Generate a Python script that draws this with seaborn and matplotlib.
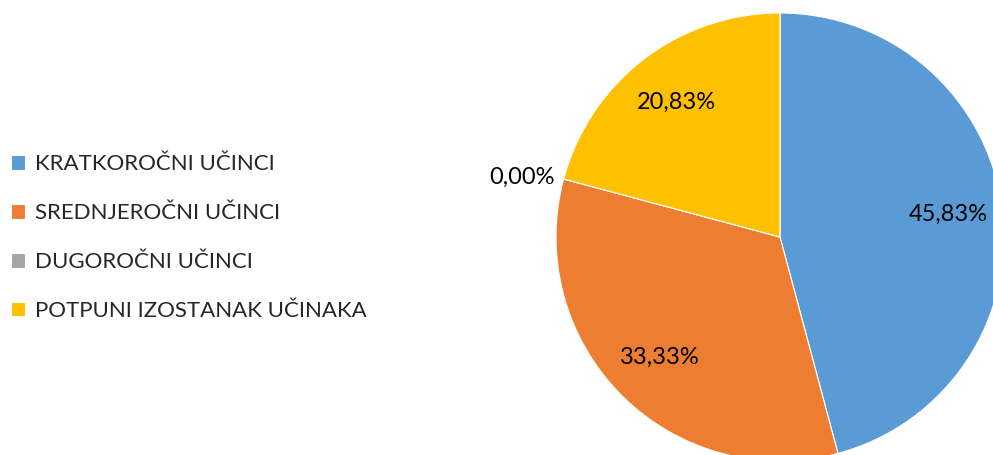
import numpy as np
import seaborn as sns
import matplotlib.pyplot as plt

categories = ['KRATKOROČNI UČINCI', 'SREDNJEROČNI UČINCI', 'DUGOROČNI UČINCI', 'POTPUNI IZOSTANAK UČINAKA']
shares = [45.83, 33.33, 0.00, 20.83]
palette = sns.color_palette(['#5B9BD5', '#ED7D31', '#A5A5A5', '#FFC000'])

sns.set_theme(style='white')
plt.rcParams['font.family'] = ['Lato', 'DejaVu Sans']

fig = plt.figure(figsize=(9.93, 4.55), dpi=100)
# pie centred at (780, 237) px, radius 224 px -> runs off the right and bottom edges
ax = fig.add_axes([556 / 993, (455 - 461) / 455, 448 / 993, 448 / 455])

wedges, texts, autotexts = ax.pie(
    shares, colors=palette, startangle=90, counterclock=False,
    autopct=lambda p: f'{p:.2f}%'.replace('.', ','), pctdistance=0.76,
    wedgeprops=dict(edgecolor='white', linewidth=0.8),
    textprops=dict(fontsize=17, color='black'))

# zero slice label sits outside the pie
for w, t, v in zip(wedges, autotexts, shares):
    if v == 0:
        ang = np.deg2rad((w.theta1 + w.theta2) / 2 + 2)
        t.set_position((1.18 * np.cos(ang), 1.18 * np.sin(ang)))

ax.set_xlim(-1, 1)
ax.set_ylim(-1, 1)
ax.set_aspect('equal')

fig.legend(wedges, categories, loc='center left', bbox_to_anchor=(11 / 993, 0.478),
           frameon=False, fontsize=16, handlelength=0.65, handleheight=0.65,
           handletextpad=0.45, labelspacing=1.3, borderpad=0, borderaxespad=0)

fig.savefig('out.png', dpi=100)
